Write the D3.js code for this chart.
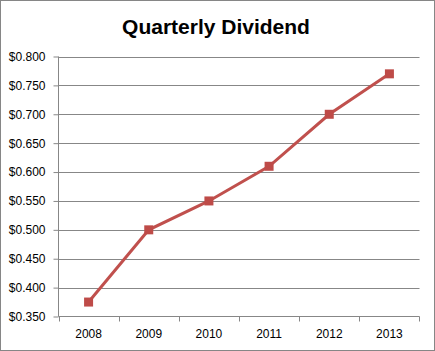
<!DOCTYPE html>
<html>
<head>
<style>
  body { margin: 0; background: #fff; }
  svg { display: block; font-family: "Liberation Sans", Arial, sans-serif; }
  .grid line { stroke: #878787; stroke-width: 1; }
  .axis path, .axis line { stroke: #878787; }
  .axis text { fill: #000; font-size: 12px; }
</style>
</head>
<body>
<script src="https://d3js.org/d3.v7.min.js"></script>
<script>
  const years = ['2008', '2009', '2010', '2011', '2012', '2013'];
  const dividends = [0.375, 0.50, 0.55, 0.61, 0.70, 0.77];
  const yTicks = [0.35, 0.40, 0.45, 0.50, 0.55, 0.60, 0.65, 0.70, 0.75, 0.80];

  const width = 435, height = 351;
  const plotLeft = 58.5, plotRight = 419.5, plotTop = 56.5, plotBottom = 316.5;

  const svg = d3.select('body').append('svg')
    .attr('width', width)
    .attr('height', height);

  // outer border
  svg.append('rect')
    .attr('x', 0.5).attr('y', 0.5)
    .attr('width', width - 1).attr('height', height - 1)
    .attr('fill', '#fff')
    .attr('stroke', '#868686');

  svg.append('text')
    .attr('x', 216).attr('y', 34)
    .attr('text-anchor', 'middle')
    .style('font-size', '21px')
    .style('font-weight', 'bold')
    .text('Quarterly Dividend');

  const x = d3.scaleBand().domain(years).range([plotLeft, plotRight]);
  const y = d3.scaleLinear().domain([0.35, 0.80]).range([plotBottom, plotTop]);

  // gridlines
  svg.append('g').attr('class', 'grid')
    .selectAll('line')
    .data(yTicks.slice(1))
    .join('line')
    .attr('x1', plotLeft).attr('x2', plotRight)
    .attr('y1', d => Math.round(y(d)) + 0.5)
    .attr('y2', d => Math.round(y(d)) + 0.5);

  // y axis
  svg.append('g')
    .attr('class', 'axis')
    .attr('transform', `translate(${plotLeft},0)`)
    .call(d3.axisLeft(y).tickValues(yTicks).tickSize(5).tickPadding(8)
      .tickFormat(d => '$' + d3.format('.3f')(d)))
    .call(g => g.select('.domain').attr('d', `M0,${plotTop}V${plotBottom}`));

  // x axis: labels at band centres, ticks at band edges
  const xAxis = svg.append('g')
    .attr('class', 'axis')
    .attr('transform', `translate(0,${plotBottom})`)
    .call(d3.axisBottom(x).tickSize(0).tickPadding(13));
  xAxis.select('.domain').attr('d', `M${plotLeft},0H${plotRight}`);
  xAxis.selectAll('.edge')
    .data(years.concat(['end']))
    .join('line')
    .attr('class', 'edge')
    .attr('x1', d => d === 'end' ? plotRight : Math.round(x(d)) + 0.5)
    .attr('x2', d => d === 'end' ? plotRight : Math.round(x(d)) + 0.5)
    .attr('y1', 0).attr('y2', 5);

  const pts = years.map((yr, i) => [x(yr) + x.bandwidth() / 2, y(dividends[i])]);

  svg.append('path')
    .datum(pts)
    .attr('fill', 'none')
    .attr('stroke', '#c0504d')
    .attr('stroke-width', 3)
    .attr('d', d3.line());

  svg.append('g')
    .selectAll('rect')
    .data(pts)
    .join('rect')
    .attr('x', d => d[0] - 4.5)
    .attr('y', d => d[1] - 4.5)
    .attr('width', 9).attr('height', 9)
    .attr('fill', '#be4b48');
</script>
</body>
</html>
